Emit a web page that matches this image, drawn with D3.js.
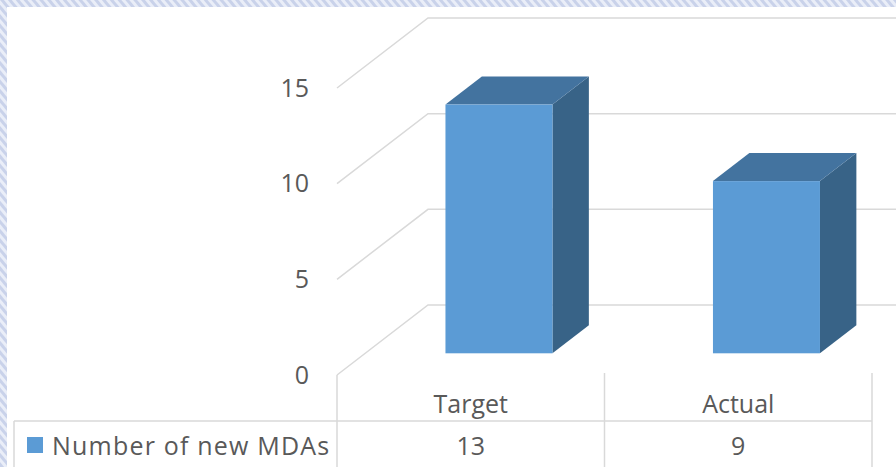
<!DOCTYPE html>
<html>
<head>
<meta charset="utf-8">
<script src="https://cdn.jsdelivr.net/npm/d3@7"></script>
<style>
  html, body { margin: 0; padding: 0; background: #fff; }
  svg { display: block; }
  text { font-family: 'Open Sans', sans-serif; fill: #595959; }
</style>
</head>
<body>
<div id="chart"></div>
<script>
const categories = ['Target', 'Actual'];
const seriesName = 'Number of new MDAs';
const values = [13, 9];
const yTicks = [0, 5, 10, 15];

const width = 896;
const height = 467;

// front plane of the plot box and the 3d depth offset
const plot = { left: 337, right: 872, top: 88, bottom: 375 };
const depth = { dx: 91, dy: -70 };
const barDepth = [0.31, 0.71];

const colors = { front: '#5b9bd5', top: '#43739f', side: '#386387', grid: '#d9d9d9' };

const svg = d3.select('#chart')
  .append('svg')
    .attr('width', width)
    .attr('height', height);

const defs = svg.append('defs');

const stripes = defs.append('pattern')
    .attr('id', 'stripes')
    .attr('width', 6)
    .attr('height', 6)
    .attr('patternUnits', 'userSpaceOnUse')
    .attr('patternTransform', 'rotate(-40)');

stripes.append('rect')
    .attr('width', 6)
    .attr('height', 6)
    .attr('fill', '#eaeef8');

stripes.append('rect')
    .attr('width', 3)
    .attr('height', 6)
    .attr('fill', '#c9d2ea');

// slide background frame, then the white chart area
svg.append('rect')
    .attr('width', width)
    .attr('height', height)
    .attr('fill', 'url(#stripes)');

svg.append('rect')
    .attr('x', 7)
    .attr('y', 7)
    .attr('width', width - 7)
    .attr('height', height - 7)
    .attr('fill', '#fff');

const x = d3.scaleBand()
    .domain(categories)
    .range([plot.left, plot.right])
    .paddingInner(0.6)
    .paddingOuter(0.3);

const y = d3.scaleLinear()
    .domain([0, 15])
    .range([plot.bottom, plot.top]);

const shift = t => [depth.dx * t, depth.dy * t];

// gridlines: side wall diagonal plus back wall
const grid = svg.append('g')
    .attr('fill', 'none')
    .attr('stroke', colors.grid)
    .attr('stroke-width', 1.5);

yTicks.forEach(v => {
  const [bx, by] = shift(1);
  grid.append('path')
      .attr('d', d3.line()([
        [plot.left, y(v)],
        [plot.left + bx, y(v) + by],
        [plot.right + bx, y(v) + by]
      ]));
});

// y tick labels
svg.append('g')
  .selectAll('text')
  .data(yTicks)
  .join('text')
    .attr('x', 309)
    .attr('y', d => y(d))
    .attr('dy', '0.35em')
    .attr('text-anchor', 'end')
    .attr('font-size', 25)
    .text(d => d);

// 3d bars
const bars = svg.append('g')
  .selectAll('g')
  .data(categories.map((c, i) => ({ category: c, value: values[i] })))
  .join('g');

const [fx, fy] = shift(barDepth[0]);
const [sx, sy] = shift(barDepth[1] - barDepth[0]);

bars.append('path')
    .attr('fill', colors.side)
    .attr('d', d => {
      const x1 = x(d.category) + x.bandwidth() + fx;
      const y0 = y(0) + fy;
      const y1 = y(d.value) + fy;
      return d3.line()([[x1, y0], [x1, y1], [x1 + sx, y1 + sy], [x1 + sx, y0 + sy]]) + 'Z';
    });

bars.append('path')
    .attr('fill', colors.top)
    .attr('d', d => {
      const x0 = x(d.category) + fx;
      const x1 = x0 + x.bandwidth();
      const y1 = y(d.value) + fy;
      return d3.line()([[x0, y1], [x0 + sx, y1 + sy], [x1 + sx, y1 + sy], [x1, y1]]) + 'Z';
    });

bars.append('rect')
    .attr('fill', colors.front)
    .attr('x', d => x(d.category) + fx)
    .attr('y', d => y(d.value) + fy)
    .attr('width', x.bandwidth())
    .attr('height', d => y(0) - y(d.value));

// data table under the axis
const table = svg.append('g')
    .attr('stroke', colors.grid)
    .attr('stroke-width', 1.5)
    .attr('fill', 'none');

const rowTop = 421;

table.append('line')
    .attr('x1', 14).attr('x2', plot.right)
    .attr('y1', rowTop).attr('y2', rowTop);

table.append('line')
    .attr('x1', 14).attr('x2', 14)
    .attr('y1', rowTop).attr('y2', height);

table.append('line')
    .attr('x1', plot.left).attr('x2', plot.left)
    .attr('y1', plot.bottom).attr('y2', height);

categories.forEach((c, i) => {
  const edge = plot.left + x.step() * (i + 1);
  table.append('line')
      .attr('x1', edge).attr('x2', edge)
      .attr('y1', 373).attr('y2', height);
});

svg.append('g')
  .selectAll('text')
  .data(categories)
  .join('text')
    .attr('x', (d, i) => plot.left + x.step() * (i + 0.5))
    .attr('y', 413)
    .attr('text-anchor', 'middle')
    .attr('font-size', 25)
    .text(d => d);

svg.append('g')
  .selectAll('text')
  .data(values)
  .join('text')
    .attr('x', (d, i) => plot.left + x.step() * (i + 0.5))
    .attr('y', 455)
    .attr('text-anchor', 'middle')
    .attr('font-size', 25)
    .text(d => d);

svg.append('rect')
    .attr('x', 27)
    .attr('y', 437)
    .attr('width', 16)
    .attr('height', 16)
    .attr('fill', colors.front);

svg.append('text')
    .attr('x', 52)
    .attr('y', 455)
    .attr('font-size', 25)
    .attr('letter-spacing', 1.2)
    .text(seriesName);
</script>
</body>
</html>
